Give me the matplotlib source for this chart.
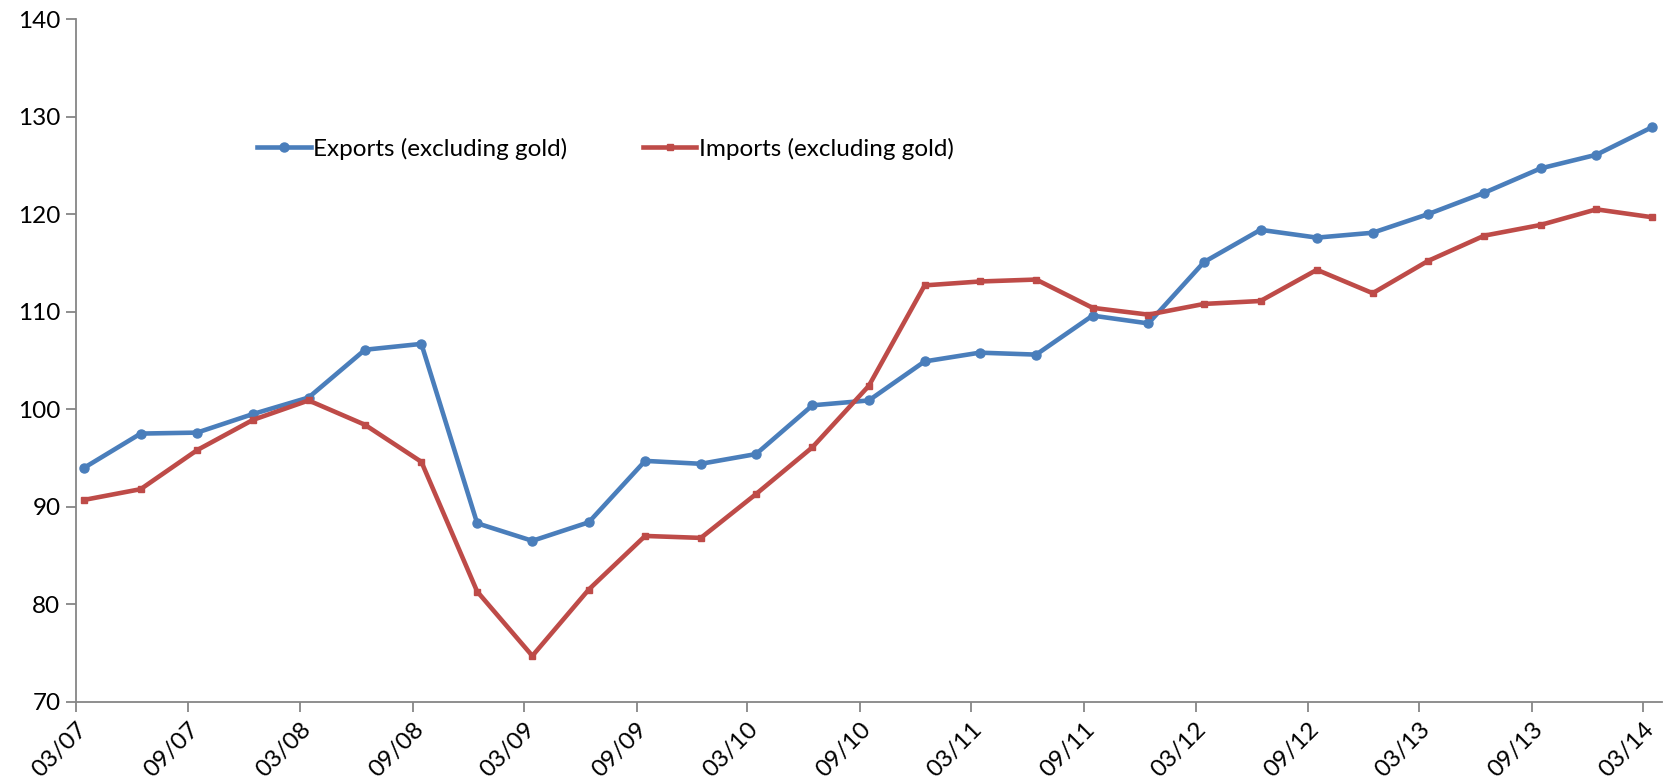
import matplotlib
matplotlib.use('Agg')
import matplotlib.pyplot as plt
import datetime as dt

plt.rcParams['font.family'] = ['Lato', 'DejaVu Sans']

quarters = ['03/07', '06/07', '09/07', '12/07',
            '03/08', '06/08', '09/08', '12/08',
            '03/09', '06/09', '09/09', '12/09',
            '03/10', '06/10', '09/10', '12/10',
            '03/11', '06/11', '09/11', '12/11',
            '03/12', '06/12', '09/12', '12/12',
            '03/13', '06/13', '09/13', '12/13',
            '03/14']

exports = [94.0, 97.5, 97.6, 99.5, 101.2, 106.1, 106.7, 88.3,
           86.5, 88.4, 94.7, 94.4, 95.4, 100.4, 100.9, 104.9,
           105.8, 105.6, 109.6, 108.8, 115.1, 118.4, 117.6, 118.1,
           120.0, 122.2, 124.7, 126.1, 128.9]

imports = [90.7, 91.8, 95.8, 98.9, 100.9, 98.4, 94.6, 81.3,
           74.7, 81.5, 87.0, 86.8, 91.3, 96.1, 102.4, 112.7,
           113.1, 113.3, 110.4, 109.7, 110.8, 111.1, 114.3, 111.9,
           115.2, 117.8, 118.9, 120.5, 119.7]

# each quarter sits in the middle of its month, ticks at the month start
dates = [dt.date(2000 + int(q[3:]), int(q[:2]), 15) for q in quarters]
tick_dates = [dt.date(2000 + int(q[3:]), int(q[:2]), 1) for q in quarters[::2]]
tick_labels = quarters[::2]

blue = '#4A7EBB'
red = '#BE4B48'
grey = '#868686'

fig = plt.figure(figsize=(16.71, 7.82), dpi=100)
ax = fig.add_axes([0.0453, 0.1027, 0.9493, 0.8727])

ax.plot(dates, exports, color=blue, lw=3.3, marker='o', ms=6.5,
        label='Exports (excluding gold)')
ax.plot(dates, imports, color=red, lw=3.3, marker='s', ms=4.5,
        label='Imports (excluding gold)')

ax.set_ylim(70, 140)
ax.set_yticks(range(70, 141, 10))
ax.set_xlim(dt.date(2007, 3, 1), dt.date(2014, 4, 1))
ax.set_xticks(tick_dates)
ax.set_xticklabels(tick_labels, rotation=45, ha='right', rotation_mode='anchor')

for s in ['top', 'right']:
    ax.spines[s].set_visible(False)
for s in ['left', 'bottom']:
    ax.spines[s].set_color(grey)
    ax.spines[s].set_linewidth(1.3)
ax.tick_params(axis='both', colors=grey, width=1.3, length=7, labelsize=17.5,
               labelcolor='black')
ax.tick_params(axis='x', pad=5)
ax.tick_params(axis='y', pad=4)

ax.legend(loc='center', bbox_to_anchor=(0.334, 0.81), ncol=2, frameon=False,
          fontsize=17.5, handlelength=2.2, handletextpad=0.1, columnspacing=3.1)

fig.savefig('out.png', dpi=100)
